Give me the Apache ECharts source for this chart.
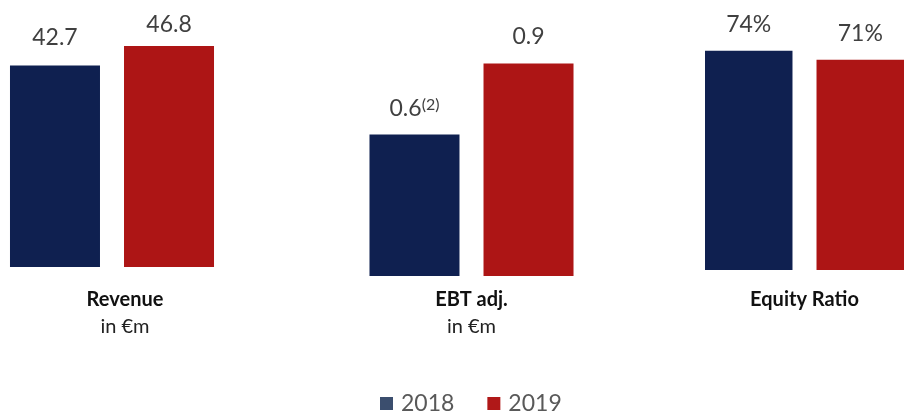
<!DOCTYPE html>
<html><head><meta charset="utf-8">
<script src="https://cdn.jsdelivr.net/npm/echarts@6/dist/echarts.min.js"></script>
<style>html,body{margin:0;padding:0;background:#fff}#c{width:904px;height:411px}</style>
</head><body><div id="c"></div>
<script>
const categories = ['Revenue', 'EBT adj.', 'Equity Ratio'];
const units = ['in €m', 'in €m', ''];
const years = ['2018', '2019'];
const values2018 = [42.7, 0.6, 74];
const values2019 = [46.8, 0.9, 71];
const suffixes = ['', '', '%'];
const notes2018 = ['', '(2)', ''];
const decimals = [1, 1, 0];

const FONT = 'Lato';
const panels = [
  {left: 8, top: 31, height: 236, max: 50, margin: 22, pad: 26},
  {left: 367.5, top: 40, height: 236, max: 1, margin: 13, pad: 0},
  {left: 705, top: 33, height: 237, max: 80, margin: 19, pad: 0}
];
const dist2018 = [16, 14, 14];
const dist2019 = [10, 15, 14];
const colors = ['#0f2050', '#ad1515'];
const legendColors = ['#3b4e6e', '#b01818'];

const grid = [], xAxis = [], yAxis = [], series = [];
panels.forEach((p, i) => {
  grid.push({left: p.left, top: p.top, width: 208, height: p.height});
  xAxis.push({
    type: 'category', gridIndex: i, data: [categories[i]],
    axisLine: {show: false}, axisTick: {show: false},
    axisLabel: {
      margin: p.margin, interval: 0,
      formatter: v => units[i] ? '{t|' + v + '}\n{s|' + units[i] + '}' : '{t|' + v + '}',
      rich: {
        t: {fontFamily: FONT, fontWeight: 'bold', fontSize: 20, color: '#111', lineHeight: 22, padding: [0, 0, 0, p.pad]},
        s: {fontFamily: FONT, fontSize: 20, color: '#222', lineHeight: 32, padding: [0, 0, 0, p.pad]}
      }
    }
  });
  yAxis.push({type: 'value', gridIndex: i, min: 0, max: p.max, show: false, splitLine: {show: false}});
  [values2018, values2019].forEach((vals, k) => {
    series.push({
      name: years[k], type: 'bar', xAxisIndex: i, yAxisIndex: i,
      barWidth: 90, barGap: '26.7%',
      itemStyle: {color: colors[k]},
      data: [vals[i]],
      label: {
        show: true, position: 'top', distance: (k === 0 ? dist2018 : dist2019)[i],
        formatter: d => {
          const txt = d.value.toFixed(decimals[i]) + suffixes[i];
          const note = k === 0 ? notes2018[i] : '';
          return '{a|' + txt + '}' + (note ? '{b|' + note + '}' : '');
        },
        rich: {
          a: {fontFamily: FONT, fontSize: 23, color: '#404040', lineHeight: 24},
          b: {fontFamily: FONT, fontSize: 16, color: '#404040', lineHeight: 16, verticalAlign: 'top'}
        }
      }
    });
  });
});

const chart = echarts.init(document.getElementById('c'), null, {renderer: 'canvas'});
chart.setOption({
  animation: false,
  grid, xAxis, yAxis, series,
  legend: {
    left: 375, top: 387, itemWidth: 13, itemHeight: 13, itemGap: 33, icon: 'rect',
    data: years.map((y, k) => ({name: y, itemStyle: {color: legendColors[k]}})),
    textStyle: {fontFamily: FONT, fontSize: 23, color: '#595959', padding: [7, 0, 0, 3]}
  }
});
</script></body></html>
